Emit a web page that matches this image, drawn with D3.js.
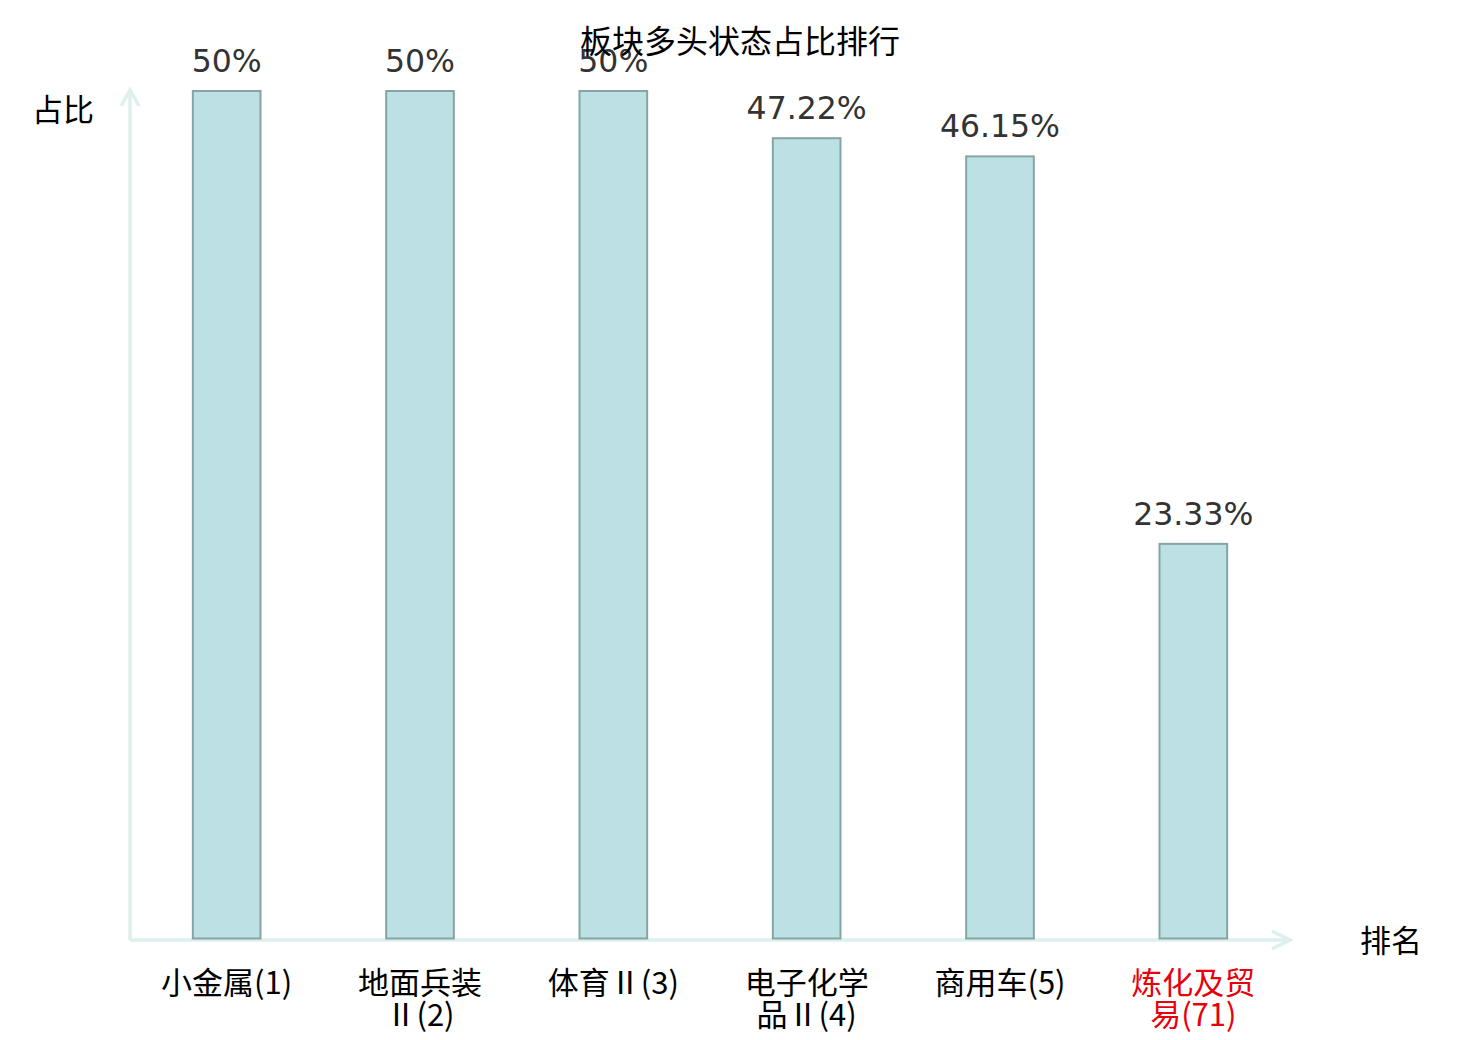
<!DOCTYPE html>
<html>
<head>
<meta charset="utf-8">
<script src="https://cdn.jsdelivr.net/npm/d3@7"></script>
<style>
  body { margin: 0; background: #fff; }
</style>
</head>
<body>
<div id="chart"></div>
<script>
var w = 1480;
var h = 1040;

// data
var categories = ["小金属(1)", "地面兵装Ⅱ(2)", "体育Ⅱ(3)", "电子化学品Ⅱ(4)", "商用车(5)", "炼化及贸易(71)"];
var values = [50, 50, 50, 47.22, 46.15, 23.33];
var valueLabels = ["50%", "50%", "50%", "47.22%", "46.15%", "23.33%"];
var highlight = [false, false, false, false, false, true];

var plotLeft = 130, plotRight = 1290, plotBottom = 940, plotTop = 91;
var axisColor = "#dcf0ed";

var svg = d3.select("#chart")
  .append("svg")
  .attr("width", w)
  .attr("height", h);

var xScale = d3.scaleBand()
  .domain(categories)
  .range([plotLeft, plotRight])
  .paddingInner(0.65)
  .paddingOuter(0.325);

var yScale = d3.scaleLinear()
  .domain([0, d3.max(values)])
  .range([plotBottom, plotTop]);

// axes with arrows
var axisG = svg.append("g")
  .style("stroke", axisColor)
  .style("stroke-width", 3.5)
  .style("fill", "none");

axisG.append("line")
  .attr("x1", plotLeft).attr("y1", plotBottom)
  .attr("x2", plotLeft).attr("y2", 90);
axisG.append("polyline")
  .attr("points", [[plotLeft - 9, 106], [plotLeft, 90], [plotLeft + 9, 106]].join(" "));

axisG.append("line")
  .attr("x1", plotLeft).attr("y1", plotBottom)
  .attr("x2", plotRight).attr("y2", plotBottom);
axisG.append("polyline")
  .attr("points", [[plotRight - 18, plotBottom - 9], [plotRight, plotBottom], [plotRight - 18, plotBottom + 9]].join(" "));

// axis names
svg.append("text")
  .attr("x", 63)
  .attr("y", 121)
  .attr("text-anchor", "middle")
  .style("font-family", "'Noto Sans CJK SC', sans-serif")
  .style("font-size", "31px")
  .style("fill", "#000")
  .text("占比");

svg.append("text")
  .attr("x", 1391)
  .attr("y", 952)
  .attr("text-anchor", "middle")
  .style("font-family", "'Noto Sans CJK SC', sans-serif")
  .style("font-size", "31px")
  .style("fill", "#000")
  .text("排名");

// bars
svg.selectAll("rect.bar")
  .data(values)
  .enter()
  .append("rect")
  .attr("class", "bar")
  .attr("x", function(d, i) { return xScale(categories[i]); })
  .attr("y", function(d) { return yScale(d); })
  .attr("width", xScale.bandwidth())
  .attr("height", function(d) { return plotBottom - 1.5 - yScale(d); })
  .style("fill", "#bce0e3")
  .style("stroke", "#88a3a4")
  .style("stroke-width", 2);

// value labels
svg.selectAll("text.val")
  .data(values)
  .enter()
  .append("text")
  .attr("class", "val")
  .attr("x", function(d, i) { return xScale(categories[i]) + xScale.bandwidth() / 2; })
  .attr("y", function(d) { return yScale(d) - 19; })
  .attr("text-anchor", "middle")
  .style("font-family", "'DejaVu Sans', sans-serif")
  .style("font-size", "31.5px")
  .style("fill", "#333")
  .text(function(d, i) { return valueLabels[i]; });

// title (drawn after labels, overlaps the third one as in the original)
svg.append("text")
  .attr("x", w / 2)
  .attr("y", 53)
  .attr("text-anchor", "middle")
  .style("font-family", "'Noto Sans CJK SC', sans-serif")
  .style("font-size", "32px")
  .style("fill", "#000")
  .text("板块多头状态占比排行");

// category labels, wrapped after 4 chars when long
svg.selectAll("text.cat")
  .data(categories)
  .enter()
  .append("text")
  .attr("class", "cat")
  .attr("text-anchor", "middle")
  .style("font-family", "'Noto Sans CJK SC', sans-serif")
  .style("font-size", "31px")
  .style("fill", function(d, i) { return highlight[i] ? "#e8000b" : "#000"; })
  .each(function(d) {
    var cx = xScale(d) + xScale.bandwidth() / 2;
    var lines = d.length > 6 ? [d.slice(0, 4), d.slice(4)] : [d];
    var t = d3.select(this);
    lines.forEach(function(s, k) {
      t.append("tspan")
        .attr("x", cx)
        .attr("y", 994 + k * 32)
        .text(s);
    });
  });
</script>
</body>
</html>
